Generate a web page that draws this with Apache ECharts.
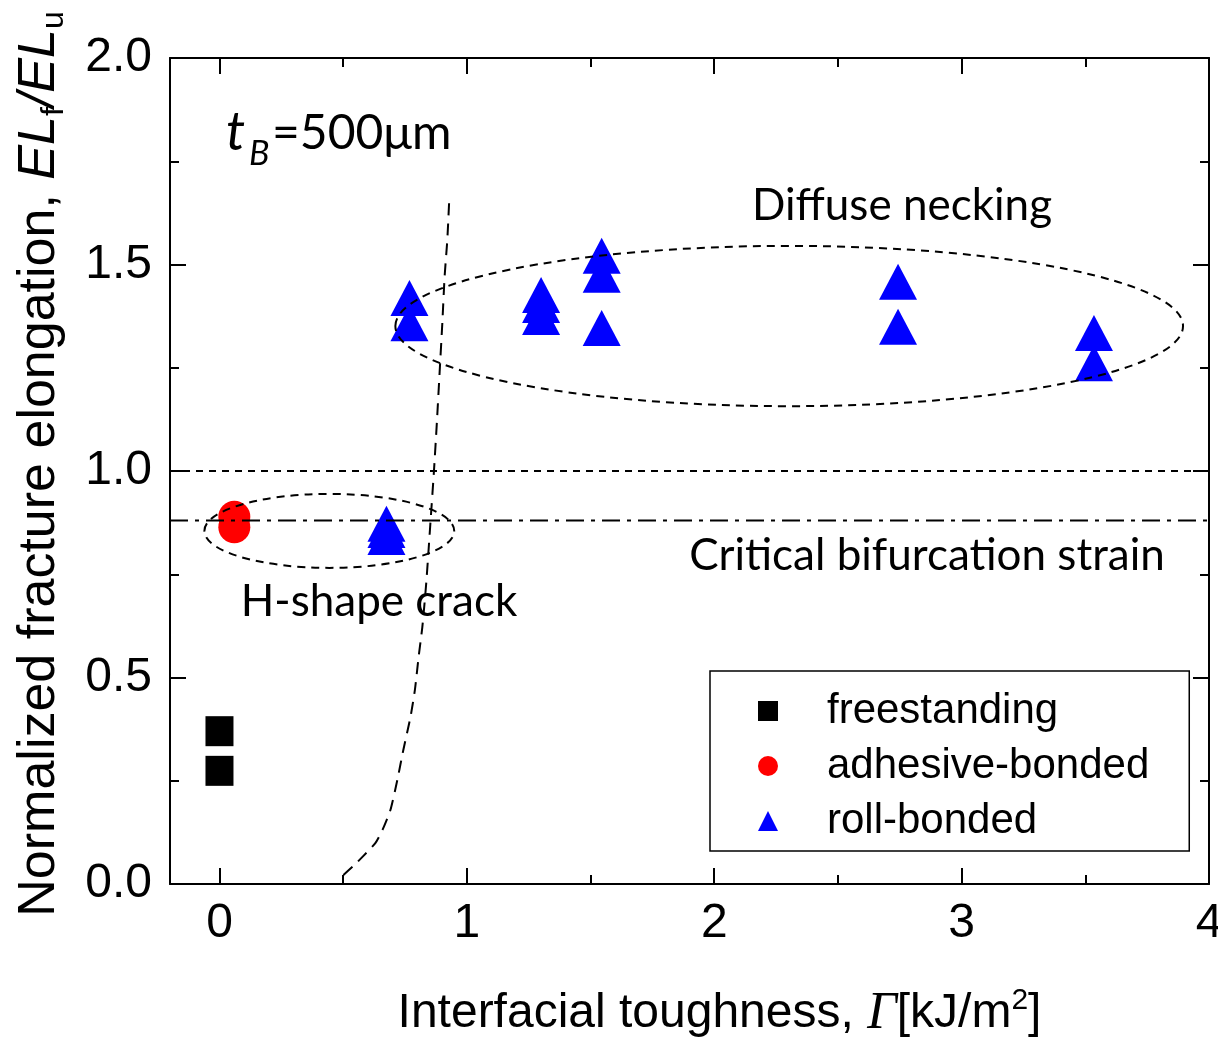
<!DOCTYPE html>
<html><head><meta charset="utf-8">
<script src="https://cdn.jsdelivr.net/npm/echarts@6/dist/echarts.min.js"></script>
<style>html,body{margin:0;padding:0;background:#fff}#c{width:1218px;height:1039px}</style>
</head><body><div id="c"></div>
<script>
// ---- data ----
const xRange = [-0.2, 4];
const yRange = [0, 2];
const xMajorTicks = [0, 1, 2, 3, 4];
const xMinorTicks = [0.5, 1.5, 2.5, 3.5];
const seriesNames = ['freestanding', 'adhesive-bonded', 'roll-bonded'];
const freestandingX = [0, 0];
const freestandingY = [0.370, 0.274];
const adhesiveX = [0.06, 0.06];
const adhesiveY = [0.889, 0.864];
const rollX = [0.675, 0.675, 0.675, 0.768, 0.768, 1.30, 1.30, 1.30, 1.545, 1.545, 1.545, 2.743, 2.743, 3.535, 3.535];
const rollY = [0.872, 0.857, 0.840, 1.419, 1.358, 1.426, 1.402, 1.373, 1.521, 1.475, 1.346, 1.458, 1.349, 1.334, 1.261];
const boundaryX = [0.501, 0.545, 0.582, 0.630, 0.659, 0.691, 0.719, 0.743, 0.772, 0.790, 0.805, 0.820, 0.836, 0.853, 0.867, 0.879, 0.890, 0.901, 0.910, 0.921, 0.929];
const boundaryY = [0.022, 0.046, 0.068, 0.099, 0.131, 0.179, 0.252, 0.324, 0.404, 0.470, 0.550, 0.622, 0.730, 0.877, 1.000, 1.120, 1.240, 1.360, 1.470, 1.560, 1.660];
const unityLevel = 1.0;
const bifurcationLevel = 0.88;
const neckingEllipse = [2.303, 1.351, 1.592, 0.194];
const crackEllipse = [0.444, 0.855, 0.505, 0.0896];

const zip = (xs, ys) => xs.map((x, i) => [x, ys[i]]);
const chart = echarts.init(document.getElementById('c'), null, {renderer: 'canvas'});
const AX = {color: '#000', width: 2};
const LBL = {fontFamily: 'Liberation Sans, Arial, sans-serif', color: '#000', fontSize: 48};

function xAx(pos, ticks, len, withLine, labels) {
  return {
    type: 'value', position: pos, min: xRange[0], max: xRange[1],
    axisLine: {show: withLine, onZero: false, lineStyle: AX},
    axisTick: {show: true, inside: true, length: len, customValues: ticks, lineStyle: AX},
    axisLabel: labels ? Object.assign({show: true, customValues: ticks, margin: 16}, LBL) : {show: false},
    splitLine: {show: false}
  };
}
function yAx(pos, labels) {
  return {
    type: 'value', position: pos, min: yRange[0], max: yRange[1], interval: 0.5,
    axisLine: {show: true, onZero: false, lineStyle: AX},
    axisTick: {show: true, inside: true, length: 16, lineStyle: AX},
    minorTick: {show: true, splitNumber: 2, length: 9, lineStyle: AX},
    axisLabel: labels ? Object.assign({show: true, margin: 18, formatter: v => v.toFixed(1)}, LBL) : {show: false},
    splitLine: {show: false}
  };
}
const xMain = xAx('bottom', xMajorTicks, 16, true, true);
xMain.name = '{a|Interfacial toughness, }{g|\u0393}{a|[kJ/m}{s|2}{a|]}';
xMain.nameLocation = 'middle';
xMain.nameGap = 102;
xMain.nameTextStyle = {
  padding: [0, 0, 0, 60],
  rich: {
    a: {fontFamily: 'Liberation Sans, Arial', fontSize: 48, color: '#000', lineHeight: 56},
    g: {fontFamily: 'Liberation Serif, serif', fontStyle: 'italic', fontSize: 52, color: '#000', lineHeight: 56},
    s: {fontFamily: 'Liberation Sans, Arial', fontSize: 30, color: '#000', lineHeight: 30, verticalAlign: 'top'}
  }
};
const yMain = yAx('left', true);
yMain.name = '{a|Normalized fracture elongation, }{i|EL}{s|f}{i|/EL}{s|u}';
yMain.nameLocation = 'middle';
yMain.nameGap = 100;
yMain.nameTextStyle = {
  padding: [0, 0, 0, 14],
  rich: {
    a: {fontFamily: 'Liberation Sans, Arial', fontSize: 52, color: '#000', lineHeight: 60},
    i: {fontFamily: 'Liberation Sans, Arial', fontStyle: 'italic', fontSize: 52, color: '#000', lineHeight: 60},
    s: {fontFamily: 'Liberation Sans, Arial', fontSize: 32, color: '#000', lineHeight: 30, verticalAlign: 'bottom'}
  }
};

function ellipseSeries(name, params) {
  return {
    type: 'custom', name: name, silent: true, z: 5, clip: false,
    encode: {x: 0, y: 1},
    data: [params],
    renderItem: (p, api) => {
      const c = api.coord([api.value(0), api.value(1)]);
      const s = api.size([api.value(2), api.value(3)]);
      return {type: 'ellipse', shape: {cx: c[0], cy: c[1], rx: s[0], ry: s[1]},
        style: {fill: 'none', stroke: '#000', lineWidth: 2, lineDash: [8, 6]}};
    }
  };
}
function refLine(name, data, dash, smooth) {
  return {type: 'line', name: name, data: data, symbol: 'none', silent: true, z: 5, smooth: smooth || false,
    lineStyle: {color: '#000', width: 2, type: dash}};
}

const TXT = 'Lato, sans-serif';
chart.setOption({
  animation: false,
  backgroundColor: '#fff',
  grid: {left: 170, top: 58, right: 9, bottom: 155, containLabel: false, outerBoundsMode: 'none'},
  xAxis: [xMain, xAx('bottom', xMinorTicks, 9, false, false), xAx('top', xMajorTicks, 16, true, false), xAx('top', xMinorTicks, 9, false, false)],
  yAxis: [yMain, yAx('right', false)],
  legend: {
    data: seriesNames, orient: 'vertical', left: 710, top: 671,
    itemWidth: 20, itemHeight: 20, itemGap: 11,
    padding: [18, 40, 8, 48], borderColor: '#000', borderWidth: 1.5, backgroundColor: '#fff',
    selectedMode: false,
    textStyle: {fontFamily: 'Liberation Sans, Arial', fontSize: 42, color: '#000', lineHeight: 44, padding: [0, 0, 0, 44]}
  },
  series: [
    {type: 'scatter', name: seriesNames[0], data: zip(freestandingX, freestandingY), symbol: 'rect', symbolSize: [28, 30], itemStyle: {color: '#000', opacity: 1}, z: 3},
    {type: 'scatter', name: seriesNames[1], data: zip(adhesiveX, adhesiveY), symbol: 'circle', symbolSize: 32, itemStyle: {color: '#f00', opacity: 1}, z: 3},
    {type: 'scatter', name: seriesNames[2], data: zip(rollX, rollY), symbol: 'triangle', symbolSize: [38, 36], itemStyle: {color: '#0000ff', opacity: 1}, z: 3},
    refLine('boundary', zip(boundaryX, boundaryY), [12, 8], 0.2),
    refLine('unity', zip(xRange, [unityLevel, unityLevel]), [7, 6]),
    refLine('bifurcation', zip(xRange, [bifurcationLevel, bifurcationLevel]), [18, 7, 4, 7]),
    ellipseSeries('necking', neckingEllipse),
    ellipseSeries('crack', crackEllipse)
  ],
  graphic: [
    {type: 'text', x: 902, y: 206, style: {text: 'Diffuse necking', font: '44px ' + TXT, fill: '#000', align: 'center', verticalAlign: 'middle'}},
    {type: 'text', x: 927, y: 556, style: {text: 'Critical bifurcation strain', font: '44px ' + TXT, fill: '#000', align: 'center', verticalAlign: 'middle'}},
    {type: 'text', x: 379, y: 602, style: {text: 'H-shape crack', font: '44px ' + TXT, fill: '#000', align: 'center', verticalAlign: 'middle'}},
    {type: 'text', x: 226, y: 133, style: {text: 't', font: 'italic 54px ' + TXT, fill: '#000', align: 'left', verticalAlign: 'middle'}},
    {type: 'text', x: 249, y: 154, style: {text: 'B', font: 'italic 34px ' + TXT, fill: '#000', align: 'left', verticalAlign: 'middle'}},
    {type: 'text', x: 272, y: 134, style: {text: '=500\u03bcm', font: '48px ' + TXT, fill: '#000', align: 'left', verticalAlign: 'middle'}}
  ]
});
</script>
</body></html>
